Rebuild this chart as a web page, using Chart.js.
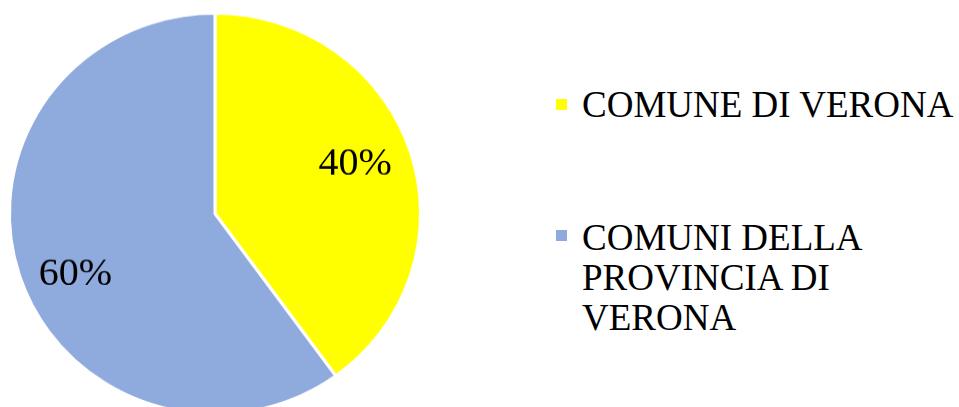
<!DOCTYPE html>
<html>
<head>
<meta charset="utf-8">
<script src="https://cdn.jsdelivr.net/npm/chart.js@4"></script>
<style>
  html, body { margin: 0; padding: 0; background: #fff; overflow: hidden; width: 959px; height: 407px; }
  /* pie is slightly flattened in the original, so squash the box a little */
  #pieBox { position: absolute; left: 0; top: 0; width: 430px; height: 438px; transform: scaleY(0.9756); transform-origin: 0 0; }
  #legend { position: absolute; left: 556px; top: 85px; font-family: "Liberation Serif", "Times New Roman", serif; font-size: 37px; color: #000; }
  .item { position: relative; padding-left: 26px; line-height: 40px; }
  .item .box { position: absolute; left: 0; width: 11px; height: 11px; }
</style>
</head>
<body>
<div id="pieBox"><canvas id="pieChart"></canvas></div>
<div id="legend"></div>
<script>
// chart data
const categories = ['COMUNE DI VERONA', 'COMUNI DELLA PROVINCIA DI VERONA'];
const legendLines = [['COMUNE DI VERONA'], ['COMUNI DELLA', 'PROVINCIA DI', 'VERONA']];
const shares = [40, 60];
const sliceColors = ['#FFFF00', '#8FAADC'];

// percent labels drawn inside each slice
const pctLabels = {
    id: 'pctLabels',
    afterDatasetsDraw(chart, args, opts) {
        const ctx = chart.ctx;
        const meta = chart.getDatasetMeta(0);
        const total = shares.reduce((a, b) => a + b, 0);
        ctx.save();
        ctx.font = '40px "Liberation Serif", "Times New Roman", serif';
        ctx.fillStyle = '#000';
        ctx.textAlign = 'center';
        ctx.textBaseline = 'middle';
        meta.data.forEach((arc, i) => {
            // office puts the labels a bit off the exact middle, nudge them
            const mid = (arc.startAngle + arc.endAngle) / 2 + opts.nudge[i] * Math.PI / 180;
            const r = arc.outerRadius * opts.dist[i];
            const x = arc.x + Math.cos(mid) * r;
            const y = arc.y + Math.sin(mid) * r;
            ctx.fillText(Math.round(shares[i] / total * 100) + '%', x, y);
        });
        ctx.restore();
    }
};

const pieCtx = document.getElementById('pieChart').getContext('2d');
const pie = new Chart(pieCtx, {
    type: 'pie',
    data: {
        labels: categories,
        datasets: [{
            data: shares,
            backgroundColor: sliceColors,
            borderColor: '#ffffff',
            borderWidth: 3
        }]
    },
    options: {
        responsive: true,
        maintainAspectRatio: false,
        animation: false,
        layout: { padding: { left: 8, right: 8, top: 12, bottom: 12 } },
        plugins: {
            legend: { display: false },
            tooltip: { enabled: false },
            pctLabels: { nudge: [-1.7, -6.2], dist: [0.725, 0.745] }
        }
    },
    plugins: [pctLabels]
});

// legend built from the same arrays
const legendEl = document.getElementById('legend');
legendLines.forEach((lines, i) => {
    const item = document.createElement('div');
    item.className = 'item';
    item.style.marginBottom = i === 0 ? '93px' : '0';
    const box = document.createElement('span');
    box.className = 'box';
    box.style.background = sliceColors[i];
    box.style.top = i === 0 ? '14px' : '12px';
    item.appendChild(box);
    lines.forEach(t => {
        const ln = document.createElement('div');
        ln.textContent = t;
        item.appendChild(ln);
    });
    legendEl.appendChild(item);
});
</script>
</body>
</html>
